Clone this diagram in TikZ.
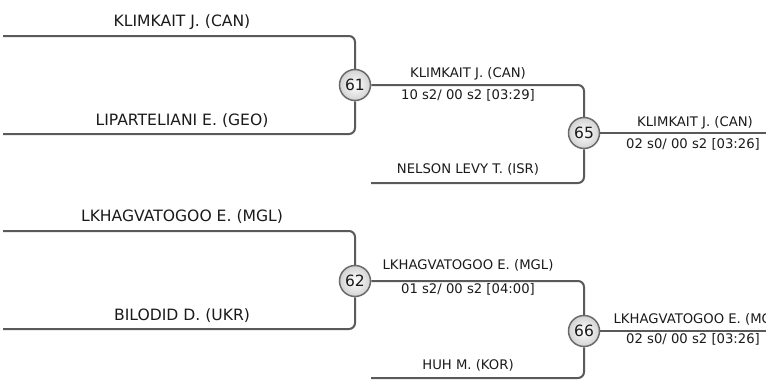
\documentclass[tikz,border=0pt]{standalone}
\usepackage{fontspec}
\setmainfont{DejaVu Sans}
\usetikzlibrary{shadings}
\definecolor{linegray}{HTML}{5A5A5A}
\definecolor{ringgray}{HTML}{6A6A6A}
\definecolor{txt}{HTML}{1A1A1A}
\begin{document}
\begin{tikzpicture}[x=1pt,y=-1pt,
  bline/.style={draw=linegray,line width=2pt,rounded corners=6pt},
  matchnode/.style={circle,draw=ringgray,line width=1.5pt,minimum size=31pt,inner sep=0pt,
    inner color=white,outer color=gray!35,font=\fontsize{15.5}{16}\selectfont,text=txt},
  bigname/.style={anchor=base,font=\fontsize{15.6}{16}\selectfont,text=txt,inner sep=0pt},
  smallname/.style={anchor=base,font=\fontsize{13.2}{14}\selectfont,text=txt,inner sep=0pt}]
\useasboundingbox (0,0) rectangle (766,383);

% match nodes
\node[matchnode] (m61) at (355,85) {61};
\node[matchnode] (m62) at (355,281) {62};
\node[matchnode] (m65) at (584,133) {65};
\node[matchnode] (m66) at (584,331) {66};

% free ends
\coordinate (a1) at (3,36);
\coordinate (a2) at (3,134);
\coordinate (b1) at (3,231);
\coordinate (b2) at (3,329);
\coordinate (c2) at (371,183);
\coordinate (d2) at (371,378);
\coordinate (e1) at (770,133);
\coordinate (f1) at (770,331);

% connectors
\draw[bline] (a1) -| (m61);
\draw[bline] (a2) -| (m61);
\draw[bline] (b1) -| (m62);
\draw[bline] (b2) -| (m62);
\draw[bline] (m61) -| (m65);
\draw[bline] (c2) -| (m65);
\draw[bline] (m62) -| (m66);
\draw[bline] (d2) -| (m66);
\draw[bline] (m65) -- (e1);
\draw[bline] (m66) -- (f1);

% first round labels
\node[bigname] (t1) at (182,26) {KLIMKAIT J. (CAN)};
\node[bigname] (t2) at (182,125) {LIPARTELIANI E. (GEO)};
\node[bigname] (t3) at (182,221) {LKHAGVATOGOO E. (MGL)};
\node[bigname] (t4) at (182,320) {BILODID D. (UKR)};

% second round labels
\node[smallname] (u1) at (468,77) {KLIMKAIT J. (CAN)};
\node[smallname] (u1s) at (468,99) {10 s2/ 00 s2 [03:29]};
\node[smallname] (u2) at (468,173) {NELSON LEVY T. (ISR)};
\node[smallname] (v1) at (468,269) {LKHAGVATOGOO E. (MGL)};
\node[smallname] (v1s) at (468,293) {01 s2/ 00 s2 [04:00]};
\node[smallname] (v2) at (468,369) {HUH M. (KOR)};

% third round labels
\node[smallname] (w1) at (695,126) {KLIMKAIT J. (CAN)};
\node[smallname] (w1s) at (693,148) {02 s0/ 00 s2 [03:26]};
\node[smallname] (x1) at (699,323) {LKHAGVATOGOO E. (MGL)};
\node[smallname] (x1s) at (693,343) {02 s0/ 00 s2 [03:26]};
\end{tikzpicture}
\end{document}
